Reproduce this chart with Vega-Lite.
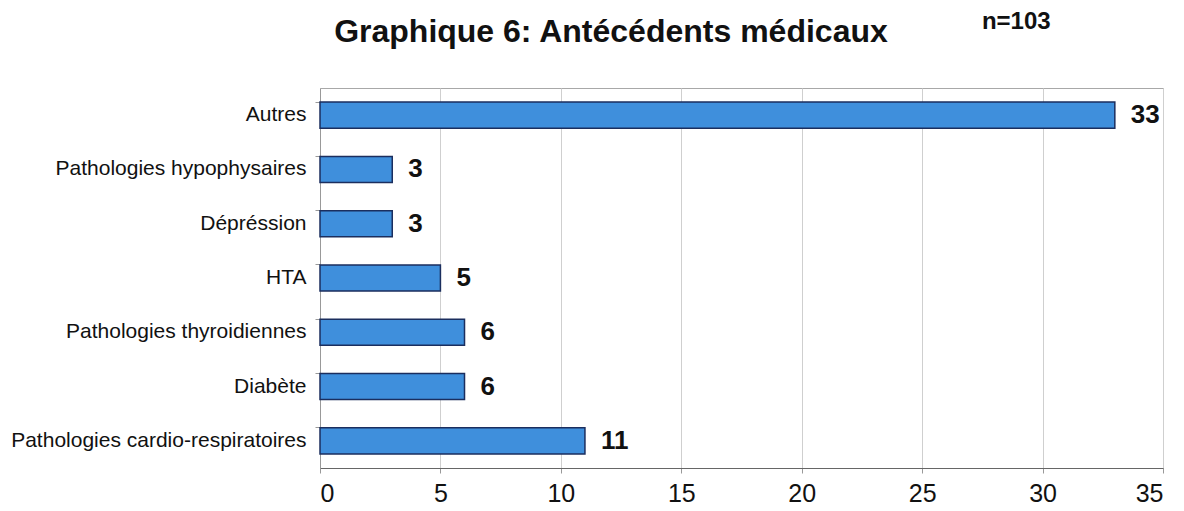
{
  "$schema": "https://vega.github.io/schema/vega-lite/v6.json",
  "autosize": "none",
  "width": 843,
  "height": 380,
  "padding": {"left": 320, "top": 88, "right": 21, "bottom": 43},
  "background": "white",
  "config": {"view": {"stroke": "#a8a8a8", "strokeWidth": 1}},
  "data": {
    "values": [
      {"cat": "Autres", "n": 33},
      {"cat": "Pathologies hypophysaires", "n": 3},
      {"cat": "Dépréssion", "n": 3},
      {"cat": "HTA", "n": 5},
      {"cat": "Pathologies thyroidiennes", "n": 6},
      {"cat": "Diabète", "n": 6},
      {"cat": "Pathologies cardio-respiratoires", "n": 11}
    ]
  },
  "encoding": {
    "y": {
      "field": "cat",
      "type": "nominal",
      "sort": null,
      "scale": {"paddingInner": 0.52, "paddingOuter": 0.26},
      "axis": {
        "title": null,
        "labelFont": "Liberation Sans",
        "labelFontSize": 21,
        "labelColor": "#111",
        "labelPadding": 9,
        "ticks": true,
        "bandPosition": 0,
        "tickColor": "#999",
        "tickSize": 5,
        "domainColor": "#999",
        "labelLimit": 400
      }
    },
    "x": {
      "field": "n",
      "type": "quantitative",
      "scale": {"domain": [0, 35], "nice": false},
      "axis": {
        "title": null,
        "values": [0, 5, 10, 15, 20, 25, 30, 35],
        "labelFont": "Liberation Sans",
        "labelFontSize": 25,
        "labelColor": "#111",
        "labelPadding": 8,
        "tickColor": "#999",
        "tickSize": 5,
        "domainColor": "#666",
        "gridColor": "#cfcfcf",
        "grid": true
      }
    }
  },
  "layer": [
    {
      "mark": {"type": "bar", "fill": "#3f8fdc", "stroke": "#1b2e5e", "strokeWidth": 1.5}
    },
    {
      "mark": {"type": "text", "align": "left", "baseline": "middle", "dx": 16, "font": "Liberation Sans", "fontSize": 26, "fontWeight": "bold", "color": "#111"},
      "encoding": {"text": {"field": "n", "type": "quantitative"}}
    },
    {
      "data": {"values": [{"label": "Graphique 6: Antécédents médicaux", "x": 12.08, "cat": "Autres"}]},
      "mark": {"type": "text", "align": "center", "baseline": "alphabetic", "dy": -73, "font": "Liberation Sans", "fontSize": 32, "fontWeight": "bold", "color": "#111", "clip": false},
      "encoding": {
        "x": {"field": "x", "type": "quantitative"},
        "y": {"field": "cat", "type": "nominal", "sort": null},
        "text": {"field": "label"}
      }
    },
    {
      "data": {"values": [{"label": "n=103", "x": 27.48, "cat": "Autres"}]},
      "mark": {"type": "text", "align": "left", "baseline": "middle", "dy": -93, "font": "Liberation Sans", "fontSize": 24, "fontWeight": "bold", "color": "#111", "clip": false},
      "encoding": {
        "x": {"field": "x", "type": "quantitative"},
        "y": {"field": "cat", "type": "nominal", "sort": null},
        "text": {"field": "label"}
      }
    }
  ]
}
